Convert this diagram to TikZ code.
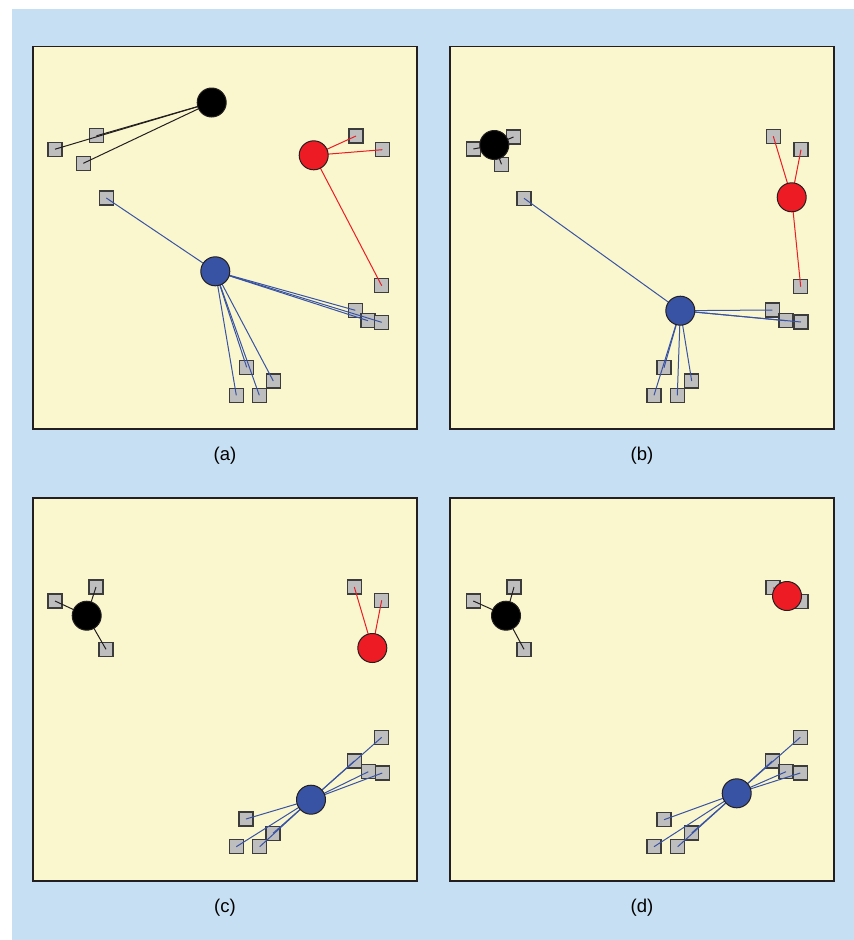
\documentclass[tikz,border=0pt]{standalone}
\usepackage{fontspec}
\setmainfont{Liberation Sans}
\definecolor{skyblue}{HTML}{C7DFF2}
\definecolor{paper}{HTML}{FAF7CE}
\definecolor{tilegray}{HTML}{BEBEBE}
\definecolor{tileedge}{HTML}{3C3C3C}
\definecolor{hubred}{HTML}{ED1C24}
\definecolor{hubblue}{HTML}{3953A4}
\definecolor{inkdark}{HTML}{231F20}
\tikzset{
  frame/.style={fill=paper, draw=inkdark, line width=1.2pt},
  tile/.style={rectangle, minimum size=14pt, inner sep=0pt, fill=tilegray, draw=tileedge, line width=1.2pt},
  hub/.style={circle, minimum size=29pt, inner sep=0pt, draw=inkdark, line width=1pt},
  linkK/.style={draw=inkdark, line width=1pt},
  linkR/.style={draw=hubred, line width=1pt},
  linkB/.style={draw=hubblue, line width=1pt},
  caption/.style={font=\fontsize{18.5}{20}\selectfont, inner sep=0pt},
}
\begin{document}
\begin{tikzpicture}[x=1pt, y=-1pt]
\useasboundingbox (0,0) rectangle (854,940);
\fill[white] (0,0) rectangle (854,940);
\fill[skyblue] (12,9) rectangle (854,940);

% ---------- panel (a) ----------
\draw[frame] (33,46.5) rectangle (417,429);
\foreach \i/\x/\y in {1/55/149.2, 2/96.5/135.8, 3/83.3/163.3}
  \node[tile] (aK\i) at (\x,\y) {};
\foreach \i/\x/\y in {1/356/136, 2/382.3/149.7, 3/381.7/285.7}
  \node[tile] (aR\i) at (\x,\y) {};
\foreach \i/\x/\y in {1/106.3/198, 2/355.3/310.3, 3/368/320.7, 4/381.7/322.3,
                      5/246.7/367.3, 6/273.3/381, 7/236.3/395.3, 8/259.3/395.3}
  \node[tile] (aB\i) at (\x,\y) {};
\coordinate (aKc) at (211.7,102.5);
\coordinate (aRc) at (313.7,155.3);
\coordinate (aBc) at (215.3,271.3);
\foreach \i in {1,2,3} \draw[linkK] (aK\i.center) -- (aKc);
\foreach \i in {1,2,3} \draw[linkR] (aR\i.center) -- (aRc);
\foreach \i in {1,...,8} \draw[linkB] (aB\i.center) -- (aBc);
\node[hub, fill=black] (aK) at (aKc) {};
\node[hub, fill=hubred] (aR) at (aRc) {};
\node[hub, fill=hubblue] (aB) at (aBc) {};
\node[caption] (capA) at (225,456) {(a)};

% ---------- panel (b) ----------
\draw[frame] (450,46.5) rectangle (834,429);
\foreach \i/\x/\y in {1/473.3/149, 2/513.5/137, 3/501.5/164.3}
  \node[tile] (bK\i) at (\x,\y) {};
\foreach \i/\x/\y in {1/773.3/136.3, 2/801/149.7, 3/800.7/286.7}
  \node[tile] (bR\i) at (\x,\y) {};
\foreach \i/\x/\y in {1/524/198.3, 2/772.3/310, 3/786/320.7, 4/801/322,
                      5/664/367.7, 6/691.7/381, 7/654/395.3, 8/677.3/395.3}
  \node[tile] (bB\i) at (\x,\y) {};
\coordinate (bKc) at (494.3,145);
\coordinate (bRc) at (791.7,197.3);
\coordinate (bBc) at (680.3,310.7);
\foreach \i in {1,2,3} \draw[linkK] (bK\i.center) -- (bKc);
\foreach \i in {1,2,3} \draw[linkR] (bR\i.center) -- (bRc);
\foreach \i in {1,...,8} \draw[linkB] (bB\i.center) -- (bBc);
\node[hub, fill=black] (bK) at (bKc) {};
\node[hub, fill=hubred] (bR) at (bRc) {};
\node[hub, fill=hubblue] (bB) at (bBc) {};
\node[caption] (capB) at (642,456) {(b)};

% ---------- panel (c) ----------
\draw[frame] (33,498) rectangle (417,881);
\foreach \i/\x/\y in {1/55/601, 2/96/587, 3/106/649.3}
  \node[tile] (cK\i) at (\x,\y) {};
\foreach \i/\x/\y in {1/354.3/587, 2/381.7/600.3}
  \node[tile] (cR\i) at (\x,\y) {};
\foreach \i/\x/\y in {1/246/819, 2/236.3/846.7, 3/273/833.3, 4/259.7/846.7,
                      5/354.3/761, 6/381.7/737.3, 7/368.3/771.7, 8/382.3/773}
  \node[tile] (cB\i) at (\x,\y) {};
\coordinate (cKc) at (86.7,615.7);
\coordinate (cRc) at (372.3,648);
\coordinate (cBc) at (311,799.7);
\foreach \i in {1,2,3} \draw[linkK] (cK\i.center) -- (cKc);
\foreach \i in {1,2} \draw[linkR] (cR\i.center) -- (cRc);
\foreach \i in {1,...,8} \draw[linkB] (cB\i.center) -- (cBc);
\node[hub, fill=black] (cK) at (cKc) {};
\node[hub, fill=hubred] (cR) at (cRc) {};
\node[hub, fill=hubblue] (cB) at (cBc) {};
\node[caption] (capC) at (225,908) {(c)};

% ---------- panel (d) ----------
\draw[frame] (450,498) rectangle (834,881);
\foreach \i/\x/\y in {1/473.3/601, 2/514/587, 3/524/649.3}
  \node[tile] (dK\i) at (\x,\y) {};
\foreach \i/\x/\y in {1/773/587.7, 2/801/601.7}
  \node[tile] (dR\i) at (\x,\y) {};
\foreach \i/\x/\y in {1/664/819.7, 2/654/846.7, 3/691.7/833, 4/677.7/846.7,
                      5/772.3/761, 6/800.3/737.3, 7/786/771.7, 8/800.3/773}
  \node[tile] (dB\i) at (\x,\y) {};
\coordinate (dKc) at (506,615.7);
\coordinate (dRc) at (787,596);
\coordinate (dBc) at (736.7,793.3);
\foreach \i in {1,2,3} \draw[linkK] (dK\i.center) -- (dKc);
\foreach \i in {1,2} \draw[linkR] (dR\i.center) -- (dRc);
\foreach \i in {1,...,8} \draw[linkB] (dB\i.center) -- (dBc);
\node[hub, fill=black] (dK) at (dKc) {};
\node[hub, fill=hubred] (dR) at (dRc) {};
\node[hub, fill=hubblue] (dB) at (dBc) {};
\node[caption] (capD) at (642,908) {(d)};
\end{tikzpicture}
\end{document}
